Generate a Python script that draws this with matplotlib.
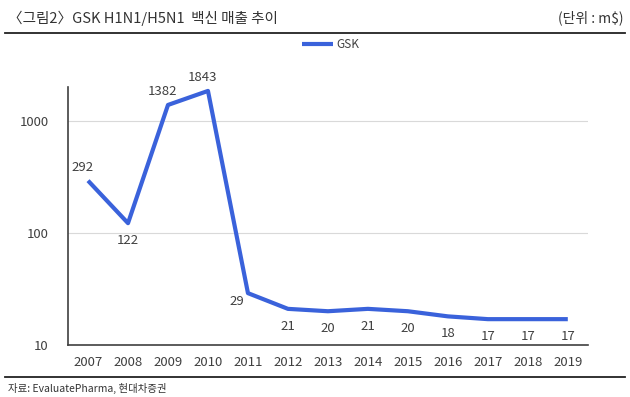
import matplotlib
matplotlib.use("Agg")
import matplotlib.pyplot as plt
from matplotlib.ticker import FixedLocator, NullLocator

plt.rcParams['font.family'] = ['Noto Sans CJK KR', 'DejaVu Sans']

years = ['2007', '2008', '2009', '2010', '2011', '2012', '2013', '2014',
         '2015', '2016', '2017', '2018', '2019']
gsk = [292, 122, 1382, 1843, 29, 21, 20, 21, 20, 18, 17, 17, 17]
label_pos = ['above', 'below', 'above', 'above', 'left', 'below', 'below',
             'below', 'below', 'below', 'below', 'below', 'below']

txt = '#404040'
blue = '#3A62DB'

fig = plt.figure(figsize=(6.30, 3.97), dpi=100)
ax = fig.add_axes([0.108, 0.131, 0.825, 0.650])

x = list(range(len(years)))
ax.plot(x, gsk, color=blue, lw=3, solid_capstyle='butt', label='GSK')
ax.set_yscale('log')
ax.set_ylim(10, 2000)
ax.set_xlim(-0.5, len(years) - 0.5)
ax.yaxis.set_major_locator(FixedLocator([10, 100, 1000]))
ax.yaxis.set_minor_locator(NullLocator())
ax.set_yticklabels(['10', '100', '1000'])
ax.set_xticks(x)
ax.set_xticklabels(years)
ax.tick_params(axis='both', length=0, labelsize=9.5, colors=txt, pad=8)
ax.tick_params(axis='y', pad=14)
ax.grid(axis='y', color='#d9d9d9', lw=0.8)
ax.set_axisbelow(True)
for s in ['top', 'right']:
    ax.spines[s].set_visible(False)
for s in ['left', 'bottom']:
    ax.spines[s].set_color('#404040')
    ax.spines[s].set_linewidth(1.2)

for xi, v, p in zip(x, gsk, label_pos):
    if p == 'above':
        ax.annotate(str(v), (xi, v), xytext=(-4, 5), textcoords='offset points',
                    ha='center', va='bottom', fontsize=9.5, color=txt)
    elif p == 'below':
        ax.annotate(str(v), (xi, v), xytext=(0, -8), textcoords='offset points',
                    ha='center', va='top', fontsize=9.5, color=txt)
    else:
        ax.annotate(str(v), (xi, v), xytext=(-3, -6), textcoords='offset points',
                    ha='right', va='center', fontsize=9.5, color=txt)

leg = fig.legend(loc='center', bbox_to_anchor=(0.525, 0.887), frameon=False,
                 fontsize=8.5, handlelength=2.6, handletextpad=0.3)
for t in leg.get_texts():
    t.set_color(txt)

fig.text(0.013, 0.955, '〈그림2〉GSK H1N1/H5N1  백신 매출 추이', fontsize=10.5,
         color='#333333', ha='left', va='center')
fig.text(0.99, 0.955, '(단위 : m$)', fontsize=10, color='#333333',
         ha='right', va='center')
fig.add_artist(plt.Line2D([0.008, 0.992], [0.917, 0.917], color='#222222', lw=1.3))
fig.add_artist(plt.Line2D([0.008, 0.992], [0.051, 0.051], color='#222222', lw=1.3))
fig.text(0.013, 0.022, '자료: EvaluatePharma, 현대차증권', fontsize=7.5,
         color='#333333', ha='left', va='center')

fig.savefig('out.png', dpi=100)
